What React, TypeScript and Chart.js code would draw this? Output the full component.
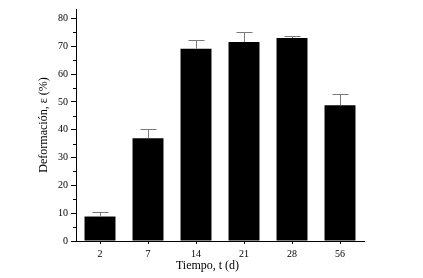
import React, { useEffect, useRef } from 'react';
import { Chart, registerables } from 'chart.js';

Chart.register(...registerables);

const categories = ['2', '7', '14', '21', '28', '56'];
const values = [8.8, 36.9, 69.1, 71.5, 73.0, 48.8];
const errors = [1.7, 3.4, 3.0, 3.6, 0.6, 3.9];
const yTicks = [0, 10, 20, 30, 40, 50, 60, 70, 80];
const yMinorTicks = [5, 15, 25, 35, 45, 55, 65, 75];
const xTitle = 'Tiempo, t (d)';
const yTitle = 'Deformación, ε (%)';

const FONT = "'Liberation Serif', 'Times New Roman', serif";

const errorBarPlugin = {
  id: 'errorBars',
  afterDatasetsDraw(chart: any) {
    const ctx = chart.ctx;
    const xs = chart.scales.x;
    const ys = chart.scales.y;
    ctx.save();
    ctx.strokeStyle = '#7a7a7a';
    ctx.lineWidth = 1;
    values.forEach((v, i) => {
      const px = Math.round(xs.getPixelForValue(i)) + 0.5;
      const base = ys.getPixelForValue(v);
      const top = Math.round(ys.getPixelForValue(v + errors[i])) + 0.5;
      ctx.beginPath();
      ctx.moveTo(px, base);
      ctx.lineTo(px, top);
      ctx.moveTo(px - 8, top);
      ctx.lineTo(px + 8, top);
      ctx.stroke();
    });
    ctx.restore();
  },
};

const minorTickPlugin = {
  id: 'minorTicks',
  afterDraw(chart: any) {
    const ctx = chart.ctx;
    const ys = chart.scales.y;
    const left = chart.chartArea.left;
    ctx.save();
    ctx.strokeStyle = '#000';
    ctx.lineWidth = 1;
    yMinorTicks.forEach((v) => {
      const py = Math.round(ys.getPixelForValue(v)) + 0.5;
      ctx.beginPath();
      ctx.moveTo(left - 3, py);
      ctx.lineTo(left, py);
      ctx.stroke();
    });
    // x-axis title, slightly left of the plot centre as in the original
    const area = chart.chartArea;
    ctx.fillStyle = '#000';
    ctx.font = `12px ${FONT}`;
    ctx.textAlign = 'center';
    ctx.textBaseline = 'middle';
    ctx.fillText(xTitle, (area.left + area.right) / 2 - 12.5, area.bottom + 25);
    ctx.restore();
  },
};

export default function App() {
  const ref = useRef<HTMLCanvasElement>(null);

  useEffect(() => {
    if (!ref.current) return;
    const chart = new Chart(ref.current, {
      type: 'bar',
      data: {
        labels: categories,
        datasets: [
          {
            data: values,
            backgroundColor: '#000',
            borderWidth: 0,
            barPercentage: 0.645,
            categoryPercentage: 1,
          },
        ],
      },
      options: {
        animation: false,
        responsive: false,
        devicePixelRatio: 1,
        layout: { padding: { left: 0, right: 59, top: 5, bottom: 0 } },
        plugins: {
          legend: { display: false },
          tooltip: { enabled: false },
        },
        scales: {
          x: {
            type: 'category',
            offset: true,
            grid: {
              display: true,
              drawOnChartArea: false,
              drawTicks: true,
              tickLength: 3,
              color: '#000',
              offset: false,
            },
            border: { display: true, color: '#000', width: 1 },
            ticks: {
              color: '#000',
              font: { family: FONT, size: 10 },
              padding: 4,
              maxRotation: 0,
              autoSkip: false,
            },
            title: { display: false },
            afterFit(s: any) {
              s.height = 37;
            },
          },
          y: {
            min: 0,
            max: 83.4,
            afterBuildTicks(s: any) {
              s.ticks = yTicks.map((v) => ({ value: v }));
            },
            grid: {
              display: true,
              drawOnChartArea: false,
              drawTicks: true,
              tickLength: 5,
              color: '#000',
            },
            border: { display: true, color: '#000', width: 1 },
            ticks: {
              color: '#000',
              font: { family: FONT, size: 10 },
              padding: 3,
            },
            title: {
              display: true,
              text: yTitle,
              color: '#000',
              font: { family: FONT, size: 12 },
              padding: { top: 37, bottom: 0 },
            },
            afterFit(s: any) {
              s.width = 76;
            },
          },
        },
      },
      plugins: [errorBarPlugin, minorTickPlugin],
    });
    return () => chart.destroy();
  }, []);

  return (
    <div style={{ position: 'absolute', left: 0, top: 0, width: 423, height: 278, background: '#fff' }}>
      <canvas ref={ref} width={423} height={278} />
    </div>
  );
}
